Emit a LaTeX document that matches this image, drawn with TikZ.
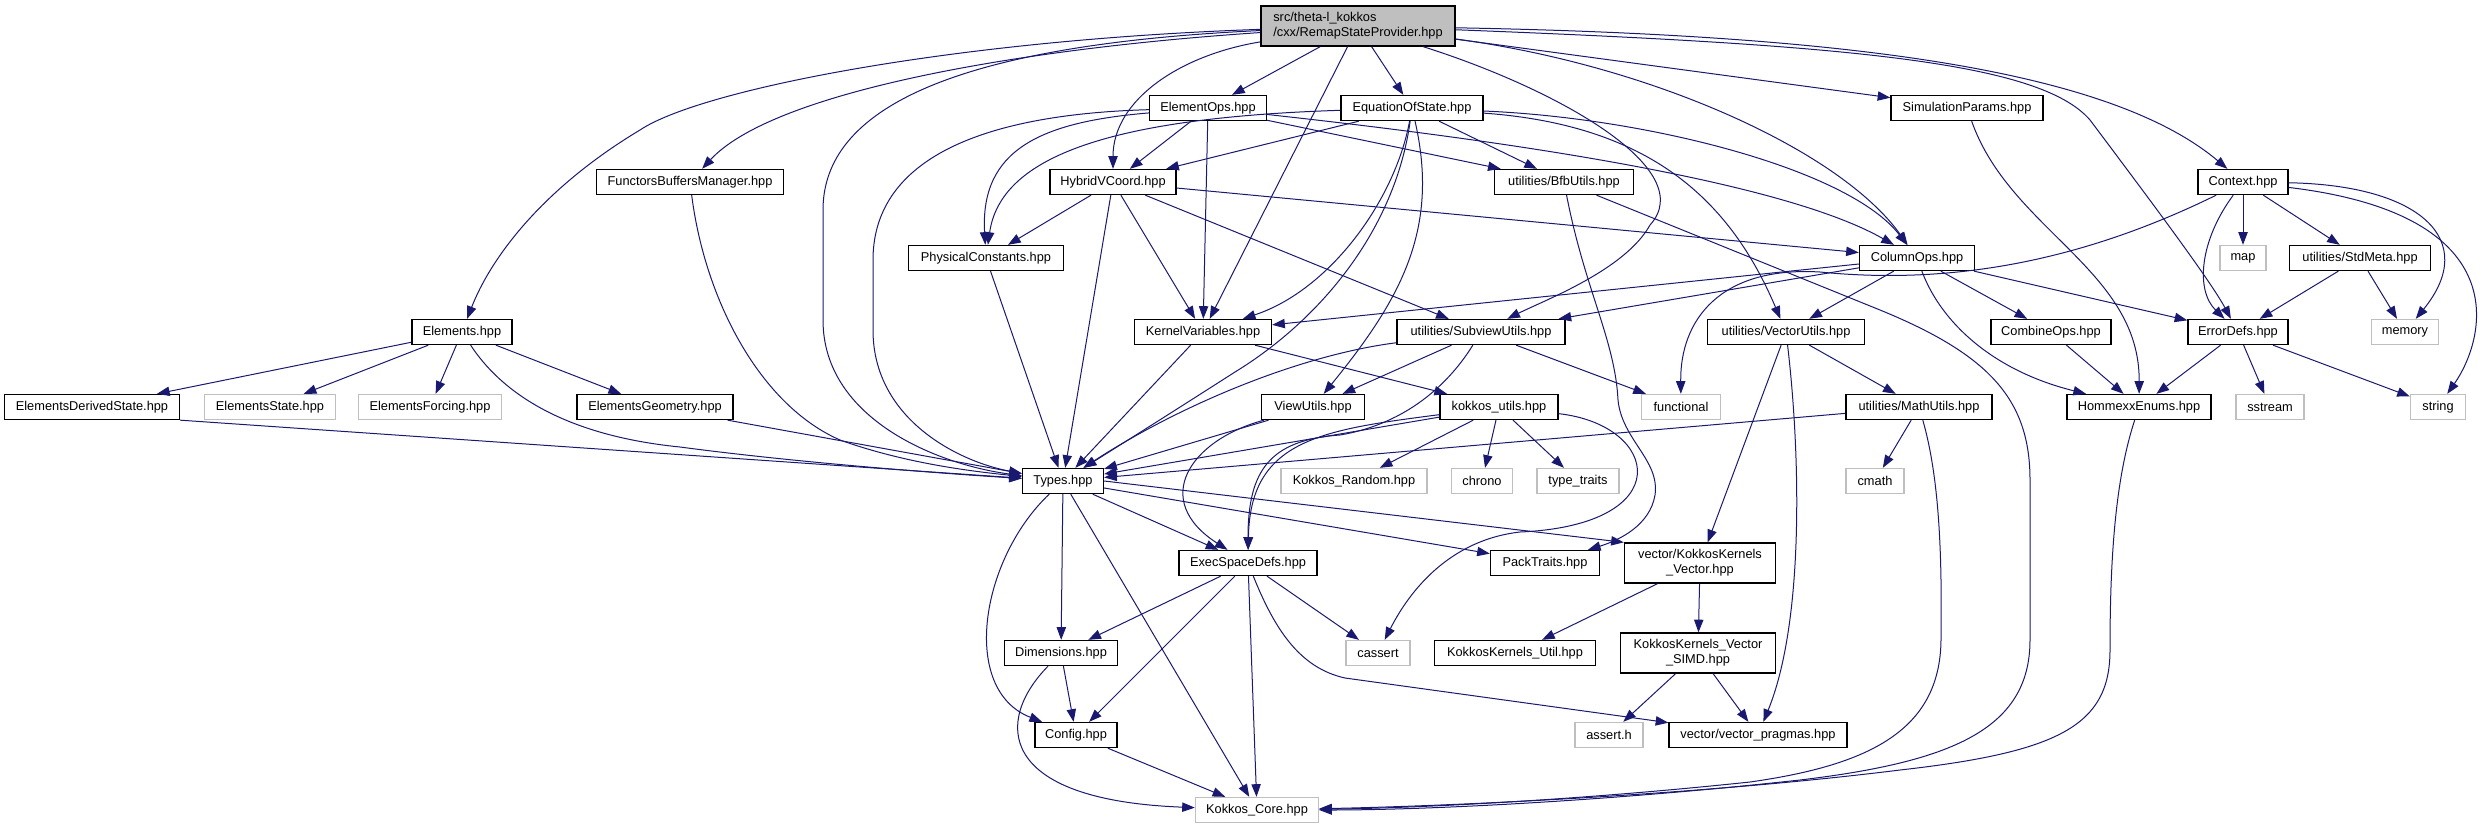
\documentclass[tikz,border=0pt]{standalone}
\usepackage{fontspec}
\setmainfont{Liberation Sans}
\usetikzlibrary{arrows.meta}
\definecolor{edgeblue}{HTML}{191970}
\definecolor{sysgray}{HTML}{BFBFBF}
\definecolor{rootfill}{HTML}{BFBFBF}
\begin{document}
\begin{tikzpicture}[x=0.75pt,y=-0.75pt,
  every node/.style={font=\fontsize{9.6}{11.5}\selectfont, inner xsep=1pt, inner ysep=0pt, minimum height=18.75pt, rectangle, fill=white, text=black},
  docn/.style={draw=black, line width=1pt},
  sysn/.style={draw=sysgray, line width=1pt},
  bw/.style={minimum width=#1*0.75pt},
  lnk/.style={draw=edgeblue, line width=0.75pt, -{Triangle[length=9.5pt,width=7pt]}}
]
\useasboundingbox (0,0) rectangle (2485,828);

% ---------- nodes ----------
\node[docn, fill=rootfill, bw=194, minimum height=30pt, align=left] (root) at (1358,26) {src/theta-l\_kokkos\\/cxx/RemapStateProvider.hpp};
\node[docn, bw=117] (eops) at (1208,108) {ElementOps.hpp};
\node[docn, bw=142] (eos) at (1412,108) {EquationOfState.hpp};
\node[docn, bw=152] (simp) at (1967,108) {SimulationParams.hpp};
\node[docn, bw=187] (fbm) at (690,182) {FunctorsBuffersManager.hpp};
\node[docn, bw=126] (hvc) at (1113,182) {HybridVCoord.hpp};
\node[docn, bw=139] (bfb) at (1564,182) {utilities/BfbUtils.hpp};
\node[docn, bw=90] (ctx) at (2243,182) {Context.hpp};
\node[docn, bw=155] (phys) at (986,258) {PhysicalConstants.hpp};
\node[docn, bw=115] (cops) at (1917,258) {ColumnOps.hpp};
\node[sysn, bw=46] (nmap) at (2243,258) {map};
\node[docn, bw=141] (stdm) at (2360,258) {utilities/StdMeta.hpp};
\node[docn, bw=100] (elem) at (462,332) {Elements.hpp};
\node[docn, bw=137] (kv) at (1203,332) {KernelVariables.hpp};
\node[docn, bw=168] (subv) at (1481,332) {utilities/SubviewUtils.hpp};
\node[docn, bw=157] (vecu) at (1786,332) {utilities/VectorUtils.hpp};
\node[docn, bw=120] (comb) at (2051,332) {CombineOps.hpp};
\node[docn, bw=100] (errd) at (2238,332) {ErrorDefs.hpp};
\node[sysn, bw=67] (nmem) at (2405,332) {memory};
\node[docn, bw=175] (eds) at (92,407) {ElementsDerivedState.hpp};
\node[sysn, bw=131] (est) at (270,407) {ElementsState.hpp};
\node[sysn, bw=143] (efo) at (430,407) {ElementsForcing.hpp};
\node[docn, bw=156] (egeo) at (655,407) {ElementsGeometry.hpp};
\node[docn, bw=103] (vu) at (1313,407) {ViewUtils.hpp};
\node[docn, bw=118] (ku) at (1499,407) {kokkos\_utils.hpp};
\node[sysn, bw=79] (nfunc) at (1681,407) {functional};
\node[docn, bw=146] (mathu) at (1919,407) {utilities/MathUtils.hpp};
\node[docn, bw=144] (henum) at (2139,407) {HommexxEnums.hpp};
\node[sysn, bw=68] (nsst) at (2270,407) {sstream};
\node[sysn, bw=55] (nstr) at (2438,407) {string};
\node[docn, bw=81] (types) at (1063,481) {Types.hpp};
\node[sysn, bw=146] (krand) at (1354,481) {Kokkos\_Random.hpp};
\node[sysn, bw=61] (nchrono) at (1482,481) {chrono};
\node[sysn, bw=82] (ntt) at (1578,481) {type\_traits};
\node[sysn, bw=58] (ncmath) at (1875,481) {cmath};
\node[docn, bw=138] (esd) at (1248,563) {ExecSpaceDefs.hpp};
\node[docn, bw=109] (pack) at (1545,563) {PackTraits.hpp};
\node[docn, bw=151, minimum height=30pt, align=center] (kkv) at (1700,563) {vector/KokkosKernels\\\_Vector.hpp};
\node[docn, bw=113] (dims) at (1061,653) {Dimensions.hpp};
\node[sysn, bw=64] (ncassert) at (1378,653) {cassert};
\node[docn, bw=161] (kku) at (1515,653) {KokkosKernels\_Util.hpp};
\node[docn, bw=155, minimum height=30pt, align=center] (kksimd) at (1698,653) {KokkosKernels\_Vector\\\_SIMD.hpp};
\node[docn, bw=82] (config) at (1076,735) {Config.hpp};
\node[sysn, bw=68] (nasserth) at (1609,735) {assert.h};
\node[docn, bw=178] (vprag) at (1758,735) {vector/vector\_pragmas.hpp};
\node[sysn, bw=123] (kcore) at (1257,810) {Kokkos\_Core.hpp};

% ---------- edges ----------
% root
\draw[lnk] (root) .. controls (950,40) and (700,90) .. (640,130) .. controls (540,190) and (490,260) .. (elem);
\draw[lnk] (root) .. controls (1000,50) and (770,95) .. (fbm);
\draw[lnk] (root) .. controls (950,45) and (823,110) .. (823,210) -- (823,320) .. controls (823,420) and (940,465) .. (types);
\draw[lnk] (root) .. controls (1180,55) and (1113,100) .. (hvc);
\draw[lnk] (root) -- (eops);
\draw[lnk] (root) -- (kv);
\draw[lnk] (root) -- (eos);
\draw[lnk] (root) .. controls (1560,90) and (1700,170) .. (1650,225) .. controls (1625,270) and (1545,300) .. (subv);
\draw[lnk] (root) .. controls (1650,65) and (1840,150) .. (cops);
\draw[lnk] (root) -- (simp);
\draw[lnk] (root) .. controls (1850,45) and (2040,62) .. (2090,120) .. controls (2150,200) and (2210,280) .. (errd);
\draw[lnk] (root) .. controls (1850,35) and (2110,70) .. (ctx);
% ElementOps
\draw[lnk] (eops) -- (hvc);
\draw[lnk] (eops) -- (kv);
\draw[lnk] (eops) .. controls (1040,122) and (980,150) .. (phys);
\draw[lnk] (eops) .. controls (960,115) and (873,170) .. (873,260) -- (873,330) .. controls (873,420) and (960,462) .. (types);
\draw[lnk] (eops) -- (bfb);
\draw[lnk] (eops) .. controls (1500,140) and (1780,180) .. (cops);
% EquationOfState
\draw[lnk] (eos) -- (hvc);
\draw[lnk] (eos) .. controls (1100,118) and (1000,160) .. (phys);
\draw[lnk] (eos) .. controls (1395,200) and (1330,290) .. (kv);
\draw[lnk] (eos) .. controls (1395,230) and (1320,320) .. (1235,372) .. controls (1160,420) and (1120,445) .. (types);
\draw[lnk] (eos) .. controls (1440,230) and (1400,300) .. (vu);
\draw[lnk] (eos) -- (bfb);
\draw[lnk] (eos) .. controls (1650,118) and (1850,170) .. (cops);
\draw[lnk] (eos) .. controls (1650,125) and (1730,200) .. (vecu);
% HybridVCoord
\draw[lnk] (hvc) -- (phys);
\draw[lnk] (hvc) -- (types);
\draw[lnk] (hvc) -- (kv);
\draw[lnk] (hvc) -- (subv);
\draw[lnk] (hvc) -- (cops);
% BfbUtils
\draw[lnk] (bfb) .. controls (1585,290) and (1615,340) .. (1618,400) .. controls (1622,440) and (1660,460) .. (1655,495) .. controls (1650,525) and (1620,540) .. (pack);
\draw[lnk] (bfb) -- (1880,310) .. controls (1990,355) and (2030,400) .. (2030,480) -- (2030,640) .. controls (2030,730) and (1950,762) .. (1800,780) .. controls (1600,802) and (1420,810) .. (kcore);
% PhysicalConstants
\draw[lnk] (phys) -- (types);
% ColumnOps
\draw[lnk] (cops) -- (kv);
\draw[lnk] (cops) -- (subv);
\draw[lnk] (cops) -- (vecu);
\draw[lnk] (cops) -- (comb);
\draw[lnk] (cops) -- (errd);
\draw[lnk] (cops) .. controls (1940,320) and (1990,370) .. (henum);
% Context
\draw[lnk] (ctx) .. controls (2080,262) and (1950,285) .. (1820,272) .. controls (1720,266) and (1680,320) .. (nfunc);
\draw[lnk] (ctx) .. controls (2200,240) and (2195,290) .. (errd);
\draw[lnk] (ctx) -- (nmap);
\draw[lnk] (ctx) -- (stdm);
\draw[lnk] (ctx) .. controls (2420,185) and (2480,240) .. (nmem);
\draw[lnk] (ctx) .. controls (2520,215) and (2485,340) .. (nstr);
% StdMeta, ErrorDefs, CombineOps, SimulationParams
\draw[lnk] (stdm) -- (errd);
\draw[lnk] (stdm) -- (nmem);
\draw[lnk] (errd) -- (henum);
\draw[lnk] (errd) -- (nsst);
\draw[lnk] (errd) -- (nstr);
\draw[lnk] (comb) -- (henum);
\draw[lnk] (simp) .. controls (2010,230) and (2140,270) .. (henum);
% Elements
\draw[lnk] (elem) -- (eds);
\draw[lnk] (elem) -- (est);
\draw[lnk] (elem) -- (efo);
\draw[lnk] (elem) -- (egeo);
\draw[lnk] (elem) .. controls (500,390) and (560,435) .. (680,447) .. controls (800,463) and (950,474) .. (types);
\draw[lnk] (eds.south east) -- (types);
\draw[lnk] (egeo) -- (types);
\draw[lnk] (fbm) .. controls (705,300) and (760,405) .. (840,440) .. controls (910,465) and (980,472) .. (types);
% KernelVariables
\draw[lnk] (kv) -- (types);
\draw[lnk] (kv) -- (ku);
% SubviewUtils
\draw[lnk] (subv) .. controls (1300,355) and (1180,405) .. (types);
\draw[lnk] (subv) -- (vu);
\draw[lnk] (subv) .. controls (1445,390) and (1400,425) .. (1340,435) .. controls (1270,440) and (1248,470) .. (esd);
\draw[lnk] (subv) -- (nfunc);
% ViewUtils
\draw[lnk] (vu) -- (types);
\draw[lnk] (vu) .. controls (1190,440) and (1150,500) .. (esd);
% kokkos_utils
\draw[lnk] (ku) -- (types);
\draw[lnk] (ku) .. controls (1320,430) and (1250,440) .. (esd);
\draw[lnk] (ku) -- (krand);
\draw[lnk] (ku) -- (nchrono);
\draw[lnk] (ku) -- (ntt);
\draw[lnk] (ku) .. controls (1660,425) and (1680,525) .. (1520,532) .. controls (1450,540) and (1410,590) .. (ncassert);
% VectorUtils
\draw[lnk] (vecu) -- (mathu);
\draw[lnk] (vecu) -- (kkv);
\draw[lnk] (vecu) .. controls (1800,450) and (1805,620) .. (vprag);
% MathUtils
\draw[lnk] (mathu) -- (types);
\draw[lnk] (mathu) -- (ncmath);
\draw[lnk] (mathu) .. controls (1940,480) and (1942,560) .. (1941,640) .. controls (1940,730) and (1870,765) .. (1750,782) .. controls (1580,800) and (1420,808) .. (kcore);
% HommexxEnums
\draw[lnk] (henum) .. controls (2115,480) and (2110,560) .. (2110,650) .. controls (2110,725) and (2060,752) .. (1900,770) .. controls (1700,795) and (1450,806) .. (kcore);
% Types
\draw[lnk] (types) -- (esd);
\draw[lnk] (types) -- (pack);
\draw[lnk] (types.east) -- (kkv.north west);
\draw[lnk] (types) -- (dims);
\draw[lnk] (types) .. controls (980,560) and (960,690) .. (config);
\draw[lnk] (types) -- (kcore);
% ExecSpaceDefs
\draw[lnk] (esd) -- (dims);
\draw[lnk] (esd) -- (config);
\draw[lnk] (esd) -- (kcore);
\draw[lnk] (esd) -- (ncassert);
\draw[lnk] (esd) .. controls (1275,630) and (1300,668) .. (1345,678) -- (vprag);
% Dimensions, Config
\draw[lnk] (dims) -- (config);
\draw[lnk] (dims) .. controls (995,720) and (995,800) .. (kcore);
\draw[lnk] (config) -- (kcore);
% KokkosKernels
\draw[lnk] (kkv) -- (kku);
\draw[lnk] (kkv) -- (kksimd);
\draw[lnk] (kksimd) -- (nasserth);
\draw[lnk] (kksimd) -- (vprag);
\end{tikzpicture}
\end{document}
